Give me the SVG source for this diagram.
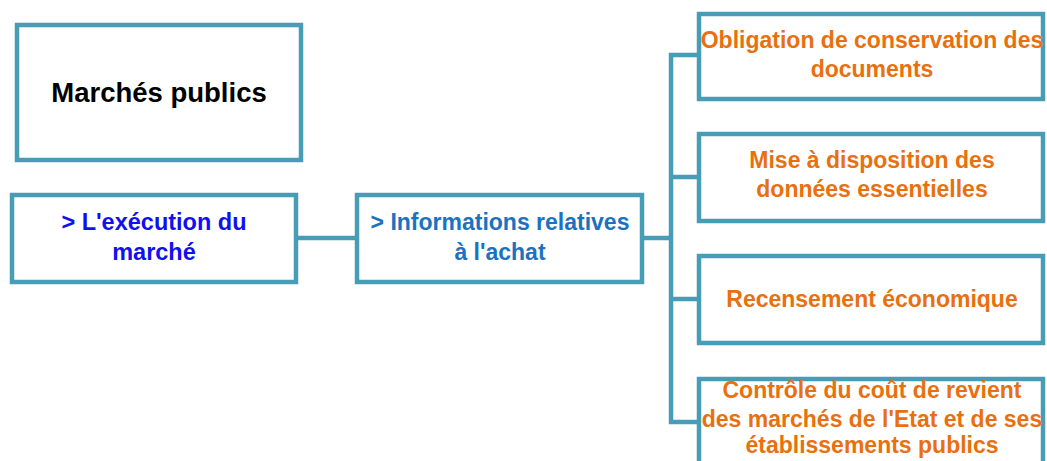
<svg xmlns="http://www.w3.org/2000/svg" width="1047" height="461" viewBox="0 0 1047 461">
<style>
.box{fill:#ffffff;stroke:#479db6;stroke-width:4.5}
.ln{fill:none;stroke:#479db6;stroke-width:4.5}
text{font-family:"Liberation Sans",Arial,sans-serif;font-weight:bold;text-anchor:middle}
.t0{fill:#000000;font-size:27.5px}
.t1{fill:#1010f0;font-size:23.5px}
.t2{fill:#1a72c0;font-size:23px}
.t3{fill:#e8700e;font-size:23px}
</style>
<rect width="1047" height="461" fill="#ffffff"/>
<g id="connectors">
<line class="ln" x1="296" y1="238" x2="357" y2="238"/>
<line class="ln" x1="642" y1="238" x2="671" y2="238"/>
<polyline class="ln" points="699,55 671,55 671,422 699,422"/>
<line class="ln" x1="671" y1="177" x2="699" y2="177"/>
<line class="ln" x1="671" y1="299" x2="699" y2="299"/>
</g>
<g id="n-marches">
<rect class="box" x="17" y="25" width="284" height="135"/>
<text class="t0" x="159" y="102">Marchés publics</text>
</g>
<g id="n-execution">
<rect class="box" x="12" y="195" width="284" height="87"/>
<text class="t1" x="154" y="230">&gt; L'exécution du</text>
<text class="t1" x="154" y="260">marché</text>
</g>
<g id="n-informations">
<rect class="box" x="357" y="195" width="285" height="87"/>
<text class="t2" x="500" y="230">&gt; Informations relatives</text>
<text class="t2" x="500" y="260">à l'achat</text>
</g>
<g id="n-obligation">
<rect class="box" x="699" y="14" width="344" height="85"/>
<text class="t3" x="872" y="48">Obligation de conservation des</text>
<text class="t3" x="872" y="77">documents</text>
</g>
<g id="n-mise">
<rect class="box" x="699" y="134" width="344" height="87"/>
<text class="t3" x="872" y="168">Mise à disposition des</text>
<text class="t3" x="872" y="197">données essentielles</text>
</g>
<g id="n-recensement">
<rect class="box" x="699" y="256" width="344" height="87"/>
<text class="t3" x="872" y="307">Recensement économique</text>
</g>
<g id="n-controle">
<rect class="box" x="699" y="379" width="344" height="87"/>
<text class="t3" x="872" y="398">Contrôle du coût de revient</text>
<text class="t3" x="872" y="427">des marchés de l'Etat et de ses</text>
<text class="t3" x="872" y="453">établissements publics</text>
</g>
</svg>
